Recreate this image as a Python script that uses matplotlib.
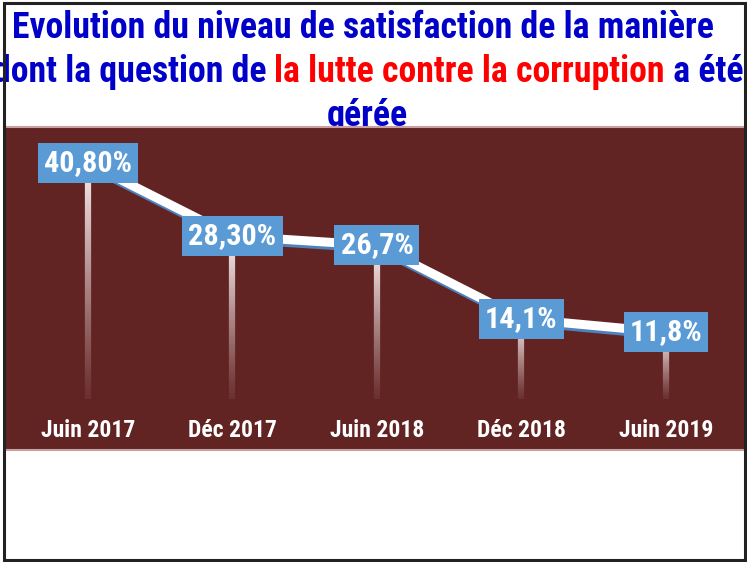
import matplotlib
matplotlib.use("Agg")
import matplotlib.pyplot as plt
import numpy as np
from matplotlib import font_manager
from matplotlib.collections import LineCollection
from matplotlib.patches import Rectangle
import matplotlib.patheffects as pe

categories = ["Juin 2017", "Déc 2017", "Juin 2018", "Déc 2018", "Juin 2019"]
values = [40.8, 28.3, 26.7, 14.1, 11.8]
value_labels = ["40,80%", "28,30%", "26,7%", "14,1%", "11,8%"]

title_line1 = "Evolution du niveau de satisfaction de la manière"
title_line2 = [("dont la question de ", "#0000C8"),
               ("la lutte contre la corruption", "#FF0000"),
               (" a été", "#0000C8")]
title_line3 = "gérée"

names = {f.name for f in font_manager.fontManager.ttflist}
FONT = ["Roboto Condensed", "DejaVu Sans"] if "Roboto Condensed" in names else ["Liberation Sans", "DejaVu Sans"]

W, H = 747, 562
fig = plt.figure(figsize=(W / 100, H / 100), dpi=100)
fig.patch.set_facecolor("white")
fig.canvas.draw()
R = fig.canvas.get_renderer()


def fit_size(s, target_w, base=20):
    t = fig.text(0, 0, s, fontsize=base, fontweight="bold", family=FONT)
    w = t.get_window_extent(renderer=R).width
    t.remove()
    return base * target_w / w


# outer frame
fig.patches.append(Rectangle((3.5 / W, 2 / H), 741.5 / W, 557.5 / H, transform=fig.transFigure,
                             fill=False, edgecolor="#222222", linewidth=2.2, zorder=5))

panel_color = "#622423"
ax = fig.add_axes([5 / W, (H - 450) / H, 740 / W, 323 / H], zorder=1)
ax.set_facecolor(panel_color)
ax.set_xlim(-0.574, 4.547)
ax.set_ylim(-8.4, 47.0)
ax.set_xticks([])
ax.set_yticks([])
for s in ["left", "right"]:
    ax.spines[s].set_visible(False)
for s in ["top", "bottom"]:
    ax.spines[s].set_color("#c9a0a0")
    ax.spines[s].set_linewidth(1.5)

x = np.arange(len(values))

# gradient drop lines
for xi, v in zip(x, values):
    n = 60
    ys = np.linspace(v, 0.4, n + 1)
    segs = [[(xi, ys[k]), (xi, ys[k + 1])] for k in range(n)]
    t = np.linspace(0, 1, n)
    cols = [(1, 0.97, 0.97, 0.9 * (1 - tt) ** 1.1 + 0.06) for tt in t]
    lc = LineCollection(segs, colors=cols, linewidths=4.5, zorder=2, capstyle="butt")
    ax.add_collection(lc)

# main line with blue shadow
ax.plot(x, values, color="white", linewidth=6.5, zorder=3, solid_capstyle="butt",
        path_effects=[pe.SimpleLineShadow(offset=(1.2, -2.2), shadow_color="#4F81BD", alpha=1),
                      pe.Normal()])

# value labels
lab_size = fit_size("40,80%", 88)
for xi, v, lab in zip(x, values, value_labels):
    ax.text(xi, v, lab, ha="center", va="center", color="white", fontsize=lab_size,
            fontweight="bold", family=FONT, zorder=5,
            bbox=dict(boxstyle="square,pad=0.2", facecolor="#5B9BD5", edgecolor="none"))

# category labels
cat_size = fit_size("Juin 2017", 94)
for xi, c in zip(x, categories):
    ax.text(xi, -5.0, c, ha="center", va="center", color="white", fontsize=cat_size,
            fontweight="bold", family=FONT, zorder=5)

# title
tsize = fit_size(title_line1, 700)
fig.text(363 / W, 1 - 38 / H, title_line1, ha="center", va="baseline",
         color="#0000C8", fontsize=tsize, fontweight="bold", family=FONT, zorder=0.5)

parts = []
for s, c in title_line2:
    t = fig.text(0, 1 - 82 / H, s, ha="left", va="baseline", color=c, fontsize=tsize,
                 fontweight="bold", family=FONT, zorder=0.5)
    parts.append(t)
fig.canvas.draw()
cur = 0.0
for p in parts:
    p.set_x(cur / W)
    fig.canvas.draw()
    bb = p.get_window_extent(renderer=R)
    cur = bb.x1
total = cur
start = 368 - total / 2
for p in parts:
    p.set_x(p.get_position()[0] + start / W)

fig.text(367 / W, 1 - 126 / H, title_line3, ha="center", va="baseline",
         color="#0000C8", fontsize=tsize, fontweight="bold", family=FONT, zorder=0.5)

fig.savefig("out.png", dpi=100, facecolor="white")
